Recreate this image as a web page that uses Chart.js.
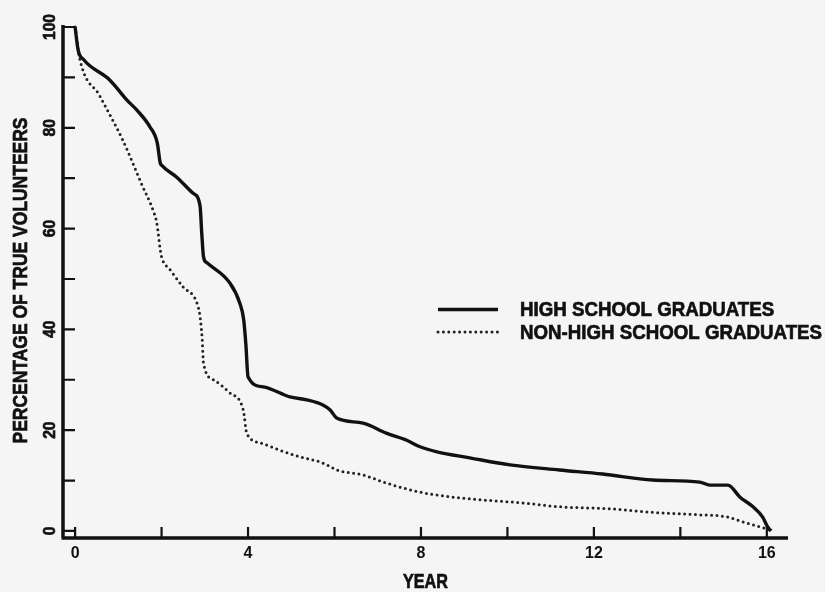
<!DOCTYPE html>
<html>
<head>
<meta charset="utf-8">
<script src="https://cdn.jsdelivr.net/npm/chart.js@4/dist/chart.umd.min.js"></script>
<style>
  html, body { margin: 0; padding: 0; background: #f5f5f5; }
</style>
</head>
<body>
<canvas id="graficoVoluntarios" width="825" height="592"></canvas>
<script>
// high school graduates (solid)
const yearsHS = [0, 0.07, 0.2, 0.8, 1.2, 1.43, 1.73, 1.9, 1.97, 2.0, 2.35, 2.73, 2.89, 2.93, 2.97, 3.05,
  3.58, 3.81, 3.9, 3.95, 4.0, 4.35, 4.97, 5.36, 5.73, 5.9, 6.05, 6.66, 7.2, 7.67, 7.98, 8.37, 9.13,
  10.06, 11.2, 12.2, 13.36, 14.45, 14.68, 15.1, 15.38, 15.68, 15.9, 16.02, 16.1];
const pctHS = [100, 95.4, 93.5, 89.5, 85.5, 83.5, 80.2, 77, 73, 72.6, 70.2, 67, 64.5, 59, 54.4, 53.2,
  49.2, 45.2, 41.9, 37, 30.6, 28.6, 26.6, 26, 25, 24, 22.4, 21.4, 19.4, 18, 16.7, 15.7, 14.5,
  13.1, 12.1, 11.3, 10.1, 9.7, 9.1, 9.1, 6.7, 4.8, 2.8, 0.8, 0];

// non-high school graduates (dotted)
const yearsNHS = [0, 0.05, 0.09, 0.58, 1.1, 1.55, 1.8, 1.89, 1.97, 2.0, 2.2, 2.5, 2.82, 2.89, 2.94, 2.97,
  3.2, 3.58, 3.89, 3.97, 4.28, 4.74, 5.2, 5.66, 5.83, 6.05, 6.66, 7.2, 7.98, 8.74, 9.5, 10.3, 11.2,
  12.37, 13.5, 14.45, 15.07, 15.45, 15.84, 16.07];
const pctNHS = [100, 97, 94.4, 86.2, 77.6, 68.6, 63.7, 61.1, 55.8, 54.4, 51.8, 48.4, 45.2, 42.5, 38, 33.3,
  30, 27.4, 24, 19.4, 17.5, 16, 14.7, 13.7, 13.1, 12.1, 11.1, 9.5, 7.7, 6.7, 6.1, 5.6, 4.8,
  4.4, 3.6, 3.2, 2.8, 1.8, 0.8, 0.2];

const xLabeled = [0, 4, 8, 12, 16];
const yLabeled = [0, 20, 40, 60, 80, 100];
const xTitle = 'YEAR';
const yTitle = 'PERCENTAGE OF TRUE VOLUNTEERS';

const tinta = '#111';
const fuente = '"Liberation Sans", Arial, sans-serif';

const toPoints = (xs, ys) => xs.map((x, i) => ({ x: x, y: ys[i] }));

// text squeezed horizontally to a given width and thickened a bit (plotter lettering)
function textoAncho(ctx, txt, x, y, ancho, rot) {
  const w = ctx.measureText(txt).width;
  ctx.save();
  ctx.translate(x, y);
  if (rot) ctx.rotate(rot);
  ctx.scale(ancho / w, 1);
  ctx.fillText(txt, 0, 0);
  ctx.strokeText(txt, 0, 0);
  ctx.restore();
}

// axes with inward ticks, rotated y labels, titles and the in-plot legend
const ejesPlugin = {
  id: 'ejes',
  afterDraw(chart, args, opts) {
    const { ctx, chartArea: a } = chart;
    const xs = chart.scales.x, ys = chart.scales.y;
    ctx.save();
    ctx.strokeStyle = tinta;
    ctx.lineCap = 'butt';

    ctx.lineWidth = 3.5;
    ctx.beginPath();
    ctx.moveTo(a.left, a.top);
    ctx.lineTo(a.left, a.bottom);
    ctx.moveTo(a.left - 1.5, a.bottom);
    ctx.lineTo(a.right, a.bottom);
    ctx.stroke();

    ctx.lineWidth = 2.2;
    ctx.beginPath();
    ys.ticks.forEach(t => {
      const py = ys.getPixelForValue(t.value);
      ctx.moveTo(a.left, py);
      ctx.lineTo(a.left + 12, py);
    });
    xs.ticks.forEach(t => {
      const px = xs.getPixelForValue(t.value);
      ctx.moveTo(px, a.bottom);
      ctx.lineTo(px, a.bottom - 11);
    });
    ctx.stroke();

    ctx.fillStyle = tinta;
    ctx.lineWidth = 0.7;
    ctx.font = 'bold 17px ' + fuente;
    ctx.textAlign = 'center';
    ctx.textBaseline = 'middle';
    ys.ticks.filter(t => yLabeled.includes(t.value)).forEach(t => {
      const py = ys.getPixelForValue(t.value);
      const txt = String(t.value);
      textoAncho(ctx, txt, opts.yLabelX, py, ctx.measureText(txt).width * 0.92, -Math.PI / 2);
    });

    // axis titles
    ctx.font = 'bold 21px ' + fuente;
    textoAncho(ctx, yTitle, opts.yTitleX, (a.top + a.bottom) / 2 - 1, 326, -Math.PI / 2);
    ctx.font = 'bold 20px ' + fuente;
    textoAncho(ctx, xTitle, (a.left + a.right) / 2, opts.xTitleY, 45, 0);

    // legend
    ctx.font = 'bold 21px ' + fuente;
    ctx.textAlign = 'left';
    const ds0 = chart.data.datasets;
    const sx = 302 / ctx.measureText(ds0[ds0.length - 1].label).width;
    ds0.forEach((ds, i) => {
      const ly = opts.legendY[i];
      ctx.save();
      ctx.strokeStyle = ds.borderColor;
      ctx.lineWidth = ds.borderWidth;
      ctx.lineCap = ds.borderCapStyle || 'butt';
      ctx.setLineDash(ds.borderDash || []);
      ctx.beginPath();
      ctx.moveTo(opts.legendX0, ly);
      ctx.lineTo(opts.legendX1, ly);
      ctx.stroke();
      ctx.restore();
      textoAncho(ctx, ds.label, opts.legendTextX, ly + 1, ctx.measureText(ds.label).width * sx, 0);
    });
    ctx.restore();
  }
};

new Chart(document.getElementById('graficoVoluntarios'), {
  type: 'line',
  data: {
    datasets: [{
      label: 'HIGH SCHOOL GRADUATES',
      data: toPoints(yearsHS, pctHS),
      borderColor: tinta,
      borderWidth: 3.4,
      pointRadius: 0,
      cubicInterpolationMode: 'monotone'
    }, {
      label: 'NON-HIGH SCHOOL GRADUATES',
      data: toPoints(yearsNHS, pctNHS),
      borderColor: '#222',
      borderWidth: 3,
      borderDash: [0, 5.4],
      borderCapStyle: 'round',
      pointRadius: 0,
      cubicInterpolationMode: 'monotone'
    }]
  },
  options: {
    responsive: false,
    animation: false,
    devicePixelRatio: 1,
    layout: { padding: { top: 25, right: 37, left: 0, bottom: 0 } },
    plugins: {
      legend: { display: false },
      tooltip: { enabled: false },
      ejes: {
        yLabelX: 50, yTitleX: 21, xTitleY: 582,
        legendY: [309.5, 332], legendX0: 438, legendX1: 498, legendTextX: 520
      }
    },
    scales: {
      x: {
        type: 'linear',
        min: -0.28,
        max: 16.49,
        afterFit: s => { s.height = 54; },
        grid: { display: false, drawTicks: false },
        border: { display: false },
        ticks: {
          stepSize: 2,
          includeBounds: false,
          maxRotation: 0,
          autoSkip: false,
          padding: 6,
          color: tinta,
          font: { family: fuente, size: 16, weight: 'bold' },
          callback: v => xLabeled.includes(v) ? String(v) : ''
        }
      },
      y: {
        min: -1.4,
        max: 100.4,
        afterFit: s => { s.width = 63; },
        grid: { display: false, drawTicks: false },
        border: { display: false },
        ticks: {
          stepSize: 10,
          includeBounds: false,
          display: false
        }
      }
    }
  },
  plugins: [ejesPlugin]
});
</script>
</body>
</html>
